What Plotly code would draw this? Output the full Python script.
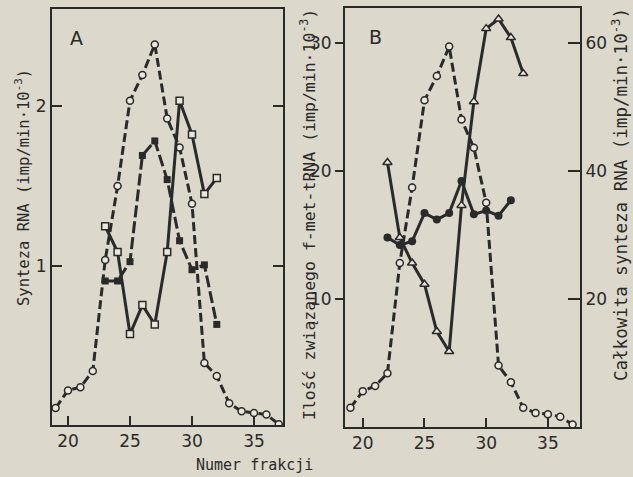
import plotly.graph_objects as go

# ---------------- data ----------------
# Panel A
a_frac_circles = list(range(19, 38))
a_circles = [0.12, 0.23, 0.25, 0.35, 1.04, 1.50, 2.03, 2.19, 2.38, 1.92, 1.74, 1.39,
             0.40, 0.32, 0.15, 0.10, 0.09, 0.08, 0.02]
a_frac_sq = list(range(23, 33))
a_open_sq = [1.25, 1.09, 0.58, 0.76, 0.64, 1.09, 2.03, 1.82, 1.45, 1.55]
a_filled_sq = [0.91, 0.91, 1.03, 1.69, 1.78, 1.54, 1.16, 0.98, 1.01, 0.64]

# Panel B
b_frac_circles = list(range(19, 38))
b_circles = [1.5, 2.8, 3.2, 4.2, 12.8, 18.7, 25.5, 27.4, 29.7, 24.0, 21.8, 17.5,
             4.8, 3.5, 1.5, 1.1, 1.0, 0.8, 0.2]
b_frac_tri = list(range(22, 34))
b_triangles = [41.3, 29.6, 25.6, 22.3, 14.9, 11.8, 34.6, 50.8, 62.2, 63.7, 60.8, 55.2]
b_frac_dots = list(range(22, 33))
b_dots = [14.8, 14.2, 14.5, 16.7, 16.2, 16.7, 19.2, 16.6, 16.9, 16.5, 17.7]

x_ticks = [20, 25, 30, 35]
a_y_ticks = [1, 2]
b_y_ticks = [10, 20, 30]
b_y2_ticks = [20, 40, 60]

# ---------------- style ----------------
BG = "#dcd8cb"
INK = "#2a2a2a"
FILL = "#ebe7dc"
FONT = "DejaVu Sans"
MONO = "DejaVu Sans Mono"
W, H = 633, 477

def px(x):
    return x / W

def py(y):
    return 1 - y / H

fig = go.Figure()

dash = "9px,4px"
# Panel A
fig.add_trace(go.Scatter(x=a_frac_circles, y=a_circles, mode="lines+markers",
                         line=dict(color=INK, width=3, dash=dash),
                         marker=dict(symbol="circle", size=7, color=FILL,
                                     line=dict(color=INK, width=1.5)),
                         xaxis="x", yaxis="y", showlegend=False))
fig.add_trace(go.Scatter(x=a_frac_sq, y=a_filled_sq, mode="lines+markers",
                         line=dict(color=INK, width=3, dash="12px,4px"),
                         marker=dict(symbol="square", size=7, color=INK),
                         xaxis="x", yaxis="y", showlegend=False))
fig.add_trace(go.Scatter(x=a_frac_sq, y=a_open_sq, mode="lines+markers",
                         line=dict(color=INK, width=3),
                         marker=dict(symbol="square", size=7, color=FILL,
                                     line=dict(color=INK, width=1.5)),
                         xaxis="x", yaxis="y", showlegend=False))

# Panel B
fig.add_trace(go.Scatter(x=b_frac_circles, y=b_circles, mode="lines+markers",
                         line=dict(color=INK, width=3, dash=dash),
                         marker=dict(symbol="circle", size=7, color=FILL,
                                     line=dict(color=INK, width=1.5)),
                         xaxis="x2", yaxis="y2", showlegend=False))
fig.add_trace(go.Scatter(x=b_frac_dots, y=b_dots, mode="lines+markers",
                         line=dict(color=INK, width=3),
                         marker=dict(symbol="circle", size=8, color=INK),
                         xaxis="x2", yaxis="y2", showlegend=False))
fig.add_trace(go.Scatter(x=b_frac_tri, y=b_triangles, mode="lines+markers",
                         line=dict(color=INK, width=3),
                         marker=dict(symbol="triangle-up", size=8, color=FILL,
                                     line=dict(color=INK, width=1.5)),
                         xaxis="x2", yaxis="y3", showlegend=False))

tickfont = dict(family=FONT, size=17, color=INK)
axis_common = dict(showgrid=False, zeroline=False, showline=True, linecolor=INK,
                   linewidth=2, tickcolor=INK, tickwidth=2, tickfont=tickfont)

fig.update_layout(
    width=W, height=H,
    margin=dict(l=0, r=0, t=0, b=0),
    paper_bgcolor=BG, plot_bgcolor=BG,
    xaxis=dict(domain=[px(52), px(283)], range=[18.71, 37.34], anchor="y",
               tickvals=x_ticks, ticks="inside", ticklen=9, mirror=True,
               **axis_common),
    yaxis=dict(domain=[py(425), py(9)], range=[0.015, 2.6], anchor="x",
               tickvals=a_y_ticks, ticks="inside", ticklen=10, mirror="ticks",
               **axis_common),
    xaxis2=dict(domain=[px(345), px(580)], range=[18.56, 37.6], anchor="y2",
                tickvals=x_ticks, ticks="inside", ticklen=9, mirror=True,
                **axis_common),
    yaxis2=dict(domain=[py(427), py(8)], range=[0, 32.71], anchor="x2",
                tickvals=b_y_ticks, ticks="outside", ticklen=8,
                **axis_common),
    yaxis3=dict(range=[0, 65.42], anchor="x2", overlaying="y2", side="right",
                tickvals=b_y2_ticks, ticks="inside", ticklen=12,
                **axis_common),
)

annos = [
    dict(text="Synteza RNA (imp/min·10<sup>-3</sup>)", x=px(22), y=py(188),
         textangle=-90, font=dict(family=MONO, size=15.5, color=INK)),
    dict(text="Ilość związanego f-met-tRNA (imp/min·10<sup>-3</sup>)", x=px(308),
         y=py(215), textangle=-90, font=dict(family=MONO, size=16.5, color=INK)),
    dict(text="Całkowita synteza RNA (imp/min·10<sup>-3</sup>)", x=px(620),
         y=py(195), textangle=-90, font=dict(family=MONO, size=17.5, color=INK)),
    dict(text="Numer frakcji", x=px(254), y=py(465),
         font=dict(family=MONO, size=15, color=INK)),
    dict(text="A", x=px(76), y=py(38), font=dict(family=FONT, size=19, color=INK)),
    dict(text="B", x=px(375), y=py(37), font=dict(family=FONT, size=19, color=INK)),
]
for a in annos:
    fig.add_annotation(xref="paper", yref="paper", showarrow=False,
                       xanchor="center", yanchor="middle", **a)

fig.write_html("out.html", config={"displayModeBar": False},
               post_script="document.body.style.margin='0';")
